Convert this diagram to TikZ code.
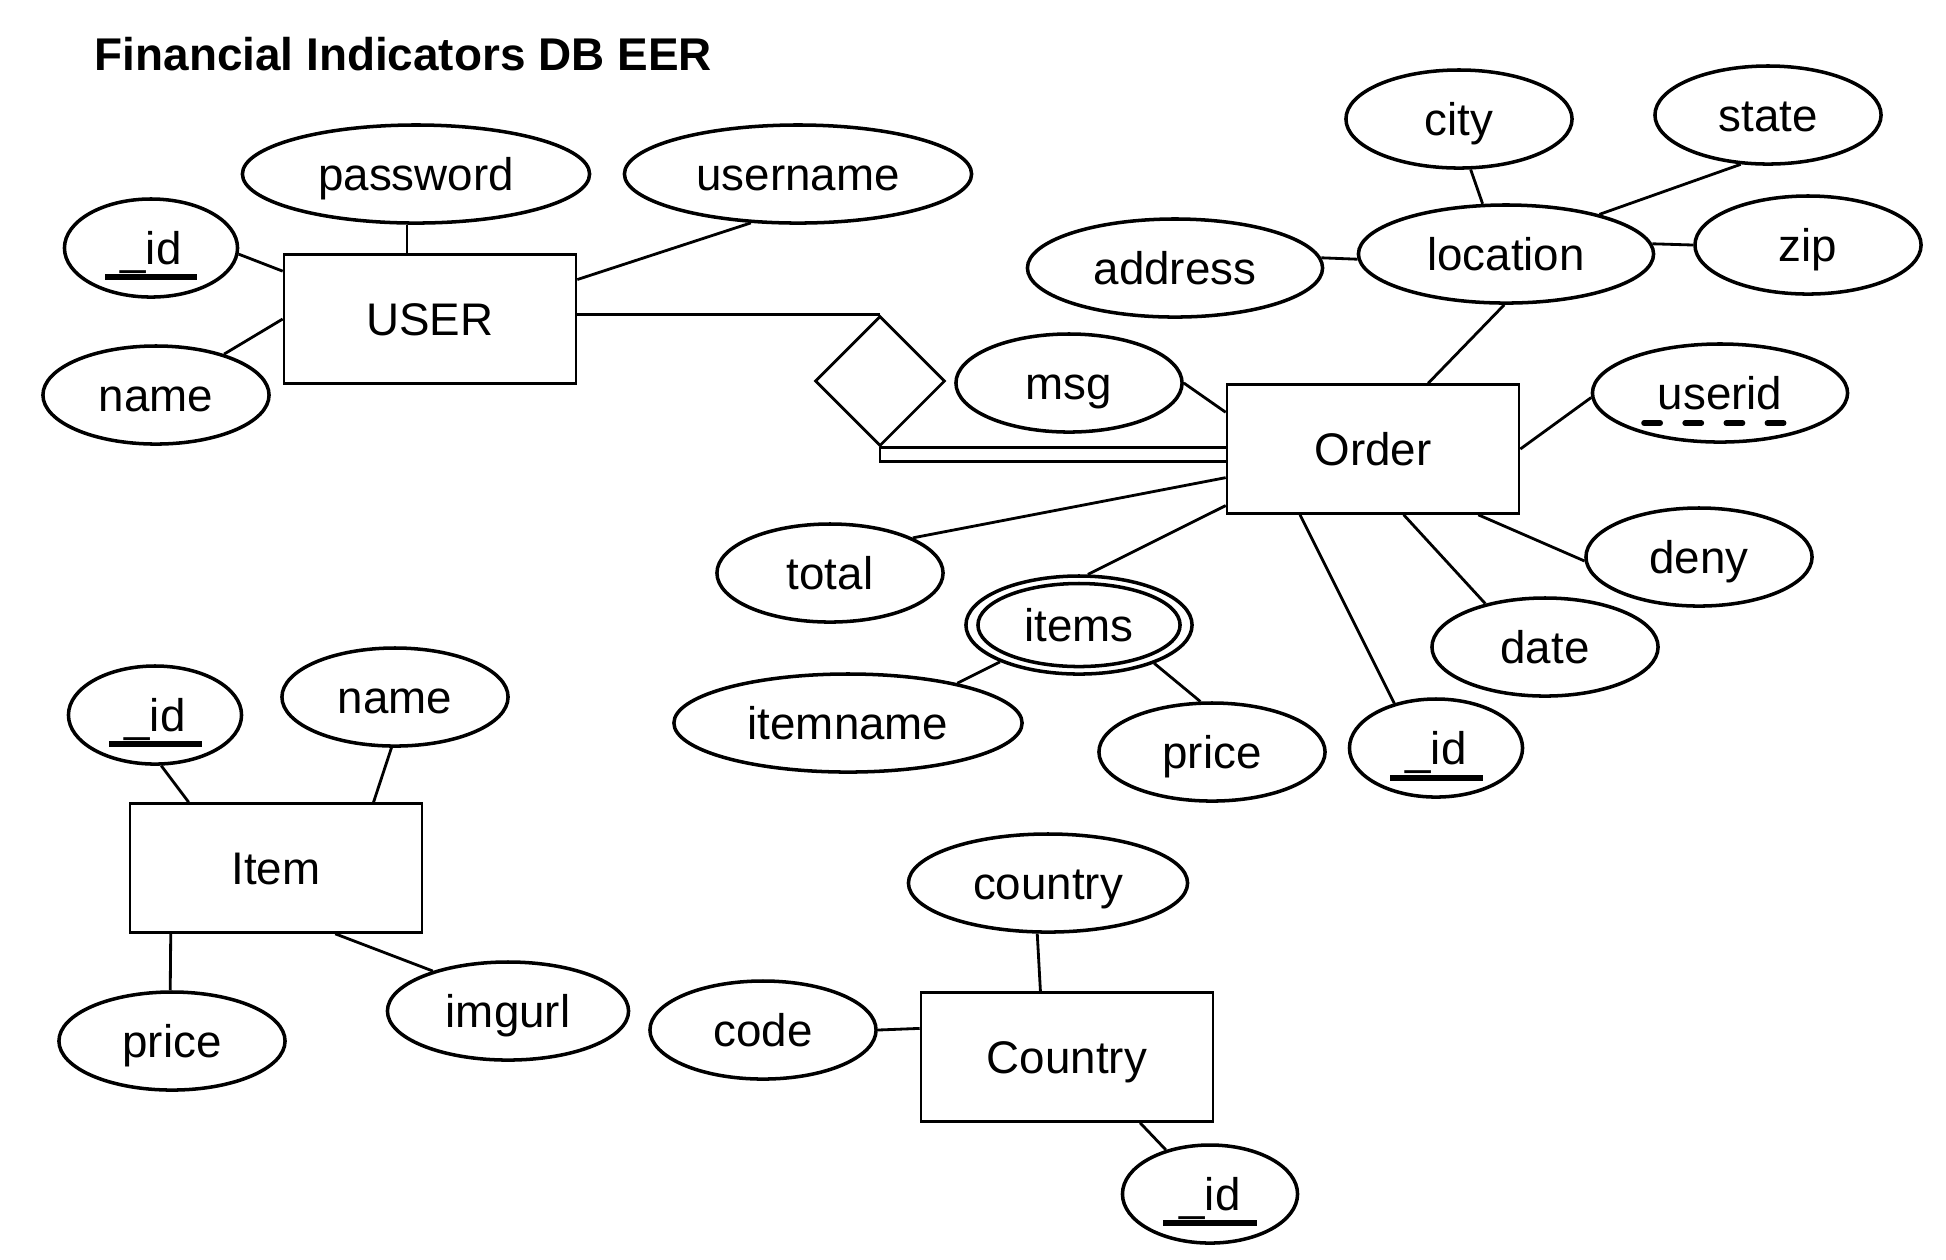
\documentclass[tikz,border=0pt]{standalone}
\usepackage{fontspec}
\setmainfont{Liberation Sans}
\usetikzlibrary{shapes.geometric}

\begin{document}
\begin{tikzpicture}[x=0.01cm,y=-0.01cm,
  font=\fontsize{13}{15}\selectfont,
  entity/.style={draw,line width=0.7pt,rectangle,minimum width=2.92cm,minimum height=1.29cm,
    text height=0.42cm,text depth=0.1cm,inner sep=0pt},
  attr/.style={draw,line width=1pt,ellipse,minimum width=2.26cm,minimum height=0.98cm,
    text height=0.42cm,text depth=0.1cm,inner sep=0pt},
  multi/.style={attr},
  rel/.style={draw,line width=0.8pt,diamond,minimum width=1.3cm,minimum height=1.3cm,inner sep=0pt},
  link/.style={line width=0.8pt},
  pkline/.style={line width=1.5pt},
  partkey/.style={line width=1.6pt,line cap=round,dash pattern=on 4.6pt off 7.1pt}]
\useasboundingbox (0,0) rectangle (1946,1259);

\node[anchor=base west,inner sep=0pt,font=\fontsize{13.05}{16}\selectfont\bfseries] (title) at (94,70) {Financial Indicators DB EER};

% USER
\node[entity] (user) at (430,319) {USER};
\node[attr,minimum width=3.47cm] (upass) at (416,174) {password};
\node[attr,minimum width=3.47cm] (uuser) at (798,174) {username};
\node[attr,minimum width=1.73cm] (uid) at (151,248) {\_id};
\node[attr] (uname) at (156,395) {name};
\draw[pkline] ([shift={(-46,29)}]uid.center) -- ([shift={(46,29)}]uid.center);
\draw[link] (upass.260) -- (upass.260 |- user.north);
\draw[link] (uuser.226) -- (user.15);
\draw[link] (uid.356) -- (user.162);
\draw[link] (uname.31) -- (user.west);

% Order
\node[entity] (order) at (1373,449) {Order};
\node[attr] (msg) at (1069,383) {msg};
\node[attr,minimum width=2.95cm] (addr) at (1175,268) {address};
\node[attr,minimum width=2.95cm] (loc) at (1506,254) {location};
\node[attr] (city) at (1459,119) {city};
\node[attr] (state) at (1768,115) {state};
\node[attr] (zip) at (1808,245) {zip};
\node[attr,minimum width=2.55cm] (userid) at (1720,393) {userid};
\node[attr] (total) at (830,573) {total};
\node[attr] (deny) at (1699,557) {deny};
\node[attr] (date) at (1545,647) {date};
\node[attr,minimum width=1.73cm] (oid) at (1436,748) {\_id};
\node[multi] (items) at (1079,625) {items};
\draw[line width=1pt] (items.center) ellipse [x radius=1.01cm,y radius=0.415cm];
\node[attr,minimum width=3.48cm] (iname) at (848,723) {itemname};
\node[attr] (iprice) at (1212,752) {price};
\draw[pkline] ([shift={(-46,30)}]oid.center) -- ([shift={(47,30)}]oid.center);
\draw[partkey] ([shift={(-76,30)}]userid.center) -- ([shift={(64,30)}]userid.center);
\draw[link] (msg.east) -- (order.166);
\draw[link] (addr.4) -- (loc.182);
\draw[link] (city.283) -- (loc.115);
\draw[link] (state.241) -- (loc.23);
\draw[link] (zip.west) -- (loc.4);
\draw[link] (loc.268) -- (order.50);
\draw[link] (userid.182) -- (order.east);
\draw[link] (total.23) -- (order.191);
\draw[link] (items.80) -- (order.201);
\draw[link] (deny.182) -- (order.328);
\draw[link] (date.144) -- (order.295);
\draw[link] (oid.133) -- (order.222);
\draw[link] (items.205) -- (iname.20);
\draw[link] (items.333) -- (iprice.103);

% relationship
\node[rel] (places) at (880,381) {};
\draw[link] (user.east |- places.north) -- (places.north);
\draw[link] (places.south) -- (places.south -| order.west);
\draw[link] (places.south) -- ++(0,14) coordinate (low) -- (low -| order.west);

% Item
\node[entity] (item) at (276,868) {Item};
\node[attr,minimum width=1.73cm] (itid) at (155,715) {\_id};
\node[attr] (itname) at (395,697) {name};
\node[attr] (itprice) at (172,1041) {price};
\node[attr,minimum width=2.41cm] (itimg) at (508,1011) {imgurl};
\draw[pkline] ([shift={(-46,29)}]itid.center) -- ([shift={(47,29)}]itid.center);
\draw[link] (itid.277) -- (item.143);
\draw[link] (itname.266) -- (item.34);
\draw[link] (itprice.92) -- (item.212);
\draw[link] (itimg.152) -- (item.312);

% Country
\node[entity] (country) at (1067,1057) {Country};
\node[attr,minimum width=2.79cm] (cname) at (1048,883) {country};
\node[attr] (ccode) at (763,1030) {code};
\node[attr,minimum width=1.75cm] (cid) at (1210,1194) {\_id};
\draw[pkline] ([shift={(-47,29)}]cid.center) -- ([shift={(47,29)}]cid.center);
\draw[link] (cname.258) -- (country.112);
\draw[link] (ccode.east) -- (country.169);
\draw[link] (cid.135) -- (country.318);
\end{tikzpicture}
\end{document}
